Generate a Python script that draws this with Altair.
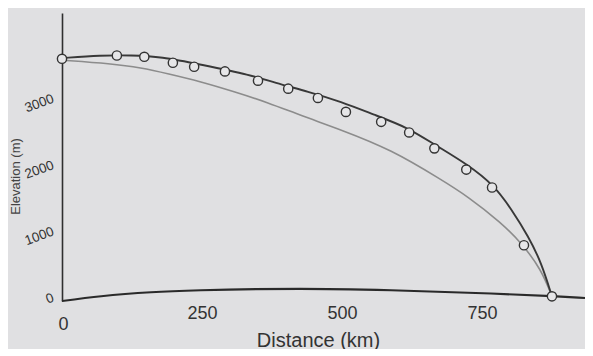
import altair as alt
import pandas as pd

# Observed surface (circles)
circle_km = [0, 98, 147, 198, 236, 291, 350, 404, 457, 507, 570, 620, 665, 722, 768, 825, 875]
circle_elev = [3590, 3640, 3620, 3530, 3470, 3400, 3260, 3140, 3000, 2790, 2640, 2480, 2240, 1920, 1650, 780, 10]

# Smooth dark profile line
obs_km = [0, 70, 123, 177, 248, 338, 379, 440, 498, 557, 618, 665, 725, 772, 802, 833, 856, 875]
obs_elev = [3600, 3642, 3642, 3622, 3502, 3345, 3230, 3095, 2944, 2748, 2553, 2297, 1995, 1680, 1330, 911, 520, 10]

# Grey (model) profile line
model_km = [0, 88, 141, 189, 248, 307, 368, 427, 498, 588, 677, 725, 784, 820, 856, 875]
model_elev = [3570, 3517, 3456, 3366, 3245, 3095, 2929, 2733, 2522, 2221, 1770, 1514, 1122, 821, 414, 10]

# Bed line
bed_km = [0, 70, 159, 248, 425, 588, 766, 875, 934]
bed_elev = [-60, 12, 72, 102, 123, 102, 53, 12, -15]

x_ticks = [0, 250, 500, 750]
y_ticks = [0, 1000, 2000, 3000]

circles = pd.DataFrame({"km": circle_km, "elev": circle_elev})
obs = pd.DataFrame({"km": obs_km, "elev": obs_elev})
model = pd.DataFrame({"km": model_km, "elev": model_elev})
bed = pd.DataFrame({"km": bed_km, "elev": bed_elev})

FONT = "Liberation Sans"
TXT = "#333333"

xscale = alt.Scale(domain=[0, 934], nice=False, zero=False)
yscale = alt.Scale(domain=[-60, 4280], nice=False, zero=False)

xaxis = alt.Axis(
    title="Distance (km)", values=x_ticks, format="d", domain=False, ticks=False, grid=False,
    labelFont=FONT, labelFontSize=18, labelColor=TXT,
    labelPadding={"condition": {"test": "datum.value === 0", "value": 14}, "value": 3},
    labelOffset={"condition": {"test": "datum.value === 0", "value": -4}, "value": 0},
    titleFont=FONT, titleFontSize=20, titleFontWeight="normal", titleColor=TXT,
    titleX=256, titleY=39, titleBaseline="middle", titleAlign="center",
)
yaxis = alt.Axis(
    title="Elevation (m)", values=y_ticks, format="d", domain=True, domainColor="#2f2f2f",
    domainWidth=1.6, ticks=False, grid=False,
    labelFont=FONT, labelFontSize=13.5, labelColor=TXT, labelAngle=340,
    labelAlign="right", labelBaseline="middle", labelPadding=9,
    titleFont=FONT, titleFontSize=13, titleFontWeight="normal", titleColor="#444444",
    titleX=-47, titleY=163, titleBaseline="middle", titleAlign="center", titleAngle=270,
)

X = alt.X("km:Q", scale=xscale, axis=xaxis)
Y = alt.Y("elev:Q", scale=yscale, axis=yaxis)

bed_line = alt.Chart(bed).mark_line(color="#2a2a2a", strokeWidth=2.2, interpolate="monotone").encode(x=X, y=Y)
model_line = alt.Chart(model).mark_line(color="#8c8c8c", strokeWidth=1.6, interpolate="basis").encode(x=X, y=Y)
obs_line = alt.Chart(obs).mark_line(color="#383838", strokeWidth=1.9, interpolate="basis").encode(x=X, y=Y)
pts = alt.Chart(circles).mark_point(
    shape="circle", size=85, filled=True, fill="#e6e6e8", stroke="#333333", strokeWidth=1.4, opacity=1
).encode(x=X, y=Y)

chart = alt.layer(bed_line, model_line, obs_line, pts).properties(
    width=523, height=288,
    autosize=alt.AutoSizeParams(type="none"),
    padding={"left": 54, "top": 5, "right": 0, "bottom": 48},
    background="#e0e0e2",
).configure_view(stroke=None)

chart.save("out.html", embed_options={"renderer": "svg", "actions": False})
